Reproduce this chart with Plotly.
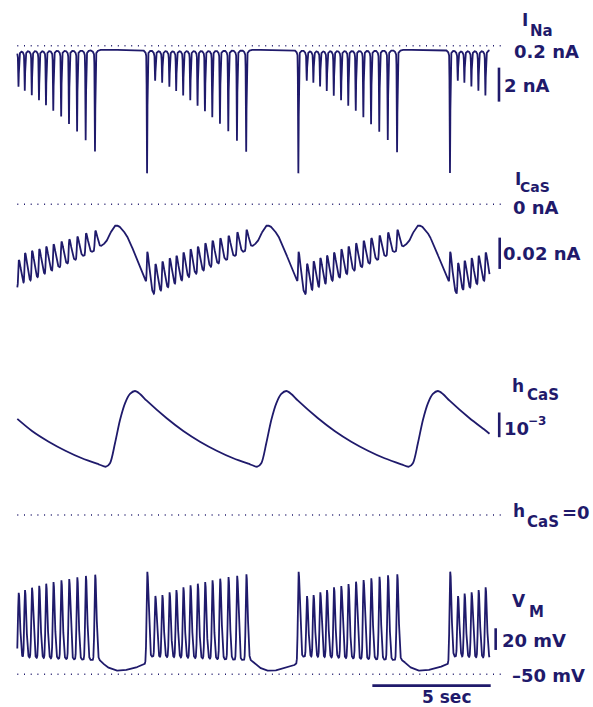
import numpy as np
import plotly.graph_objects as go

# ---------------- data ----------------
T_END = 19.95          # s, length of the recording shown
DT = 0.002             # s, sampling step of the traces

# first spike of each burst (s); the first burst starts before the window
burst_onsets = [-0.90, 5.492, 11.884, 18.289]

# spike times (s)
spike_times = [
    0.06, 0.325, 0.621, 0.925, 1.221, 1.529, 1.863, 2.193, 2.535, 2.898, 3.291,
    5.492, 5.834, 6.130, 6.434, 6.722, 7.017, 7.317, 7.626, 7.938, 8.247, 8.572, 8.923, 9.290, 9.679,
    11.884, 12.239, 12.518, 12.801, 13.084, 13.380, 13.688, 13.992, 14.309, 14.630, 14.956, 15.302, 15.661, 16.054,
    18.289, 18.619, 18.897, 19.193, 19.489, 19.785,
]

# peak inward sodium current of each spike (nA)
ina_peaks = [
    -2.21, -2.45, -2.72, -3.01, -3.31, -3.64, -3.98, -4.41, -4.86, -5.36, -6.04,
    -7.31, -1.86, -1.98, -2.21, -2.46, -2.74, -3.01, -3.33, -3.66, -4.01, -4.39, -4.84, -5.39, -6.05,
    -7.31, -1.86, -1.98, -2.21, -2.46, -2.74, -3.01, -3.33, -3.63, -4.01, -4.42, -4.86, -5.36, -6.07,
    -7.31, -1.86, -1.98, -2.21, -2.46, -2.74,
]
ina_rest = -0.04      # nA between bursts

# slow calcium current at each spike peak (nA)
icas_peaks = [
    -0.0356, -0.0313, -0.0298, -0.0286, -0.0271, -0.0256, -0.0239, -0.0224, -0.0207, -0.0185, -0.0169,
    -0.0303, -0.0382, -0.0367, -0.0345, -0.0330, -0.0309, -0.0288, -0.0271, -0.0249, -0.0233, -0.0217, -0.0201, -0.0179, -0.0164,
    -0.0303, -0.0380, -0.0366, -0.0345, -0.0329, -0.0309, -0.0288, -0.0270, -0.0250, -0.0233, -0.0216, -0.0200, -0.0180, -0.0164,
    -0.0303, -0.0375, -0.0362, -0.0345, -0.0330, -0.0309,
]
# slow part of I_CaS within one cycle (s after burst onset, nA)
icas_slow_t = [-0.03, 0.27, 4.13, 4.39, 4.67, 4.82, 5.03, 5.21, 5.52, 5.80, 6.08]
icas_slow_v = [-0.0505, -0.0580, -0.0300, -0.0275, -0.0239, -0.0185, -0.0132, -0.0139, -0.0196, -0.0292, -0.0399]

# membrane potential at each spike peak (mV)
vm_peaks = [
    25.3, 27.8, 30.0, 31.8, 33.7, 35.2, 36.8, 38.0, 39.6, 40.8, 42.0,
    44.7, 22.3, 23.2, 25.7, 27.8, 30.3, 32.2, 33.7, 35.2, 36.8, 38.3, 39.8, 41.0, 42.3,
    44.7, 22.3, 23.2, 25.7, 27.8, 30.3, 31.5, 33.4, 35.5, 37.1, 38.6, 40.1, 41.4, 42.3,
    44.7, 22.3, 24.6, 25.7, 27.8, 30.3,
]
# slow part of V_M within one cycle (s after burst onset, mV)
vm_slow_t = [-0.17, -0.04, 0.10, 4.00, 4.40, 4.67, 5.03, 5.37, 5.80]
vm_slow_v = [-41.4, -39.6, -33.7, -36.8, -37.0, -43.0, -46.7, -46.7, -44.5]

# inactivation h_CaS over one cycle (s after burst onset, units of 1e-3)
h_cycle_t = [-1.745, -1.576, -1.365, -1.153, -0.942, -0.731, -0.520, -0.308, -0.025,
             0.820, 1.521, 2.226, 2.932, 3.633, 4.339]
h_cycle_v = [1.955, 2.093, 2.903, 3.846, 4.522, 4.899, 5.020, 4.899, 4.628,
             3.915, 3.401, 2.968, 2.603, 2.296, 2.053]
h_start, h_end = 3.89, 3.29   # 1e-3, at the two ends of the window

# ---------------- geometry ----------------
W, H = 593, 707
X0_PX, PX_PER_S = 17.3, 23.67
NAVY = '#1f1a6b'
FONT = "DejaVu Sans"

t = np.arange(0.0, T_END + DT / 2, DT)


def smooth(y, sigma):
    n = int(4 * sigma / DT)
    k = np.exp(-0.5 * (np.arange(-n, n + 1) * DT / sigma) ** 2)
    k /= k.sum()
    return np.convolve(np.pad(y, n, mode='edge'), k, mode='valid')


def slow_wave(offsets, values, sigma=0.05):
    kt = np.concatenate([o + np.asarray(offsets) for o in burst_onsets])
    kv = np.tile(values, len(burst_onsets))
    order = np.argsort(kt)
    return smooth(np.interp(t, kt[order], kv[order]), sigma)


def add_spikes(bg, peaks, s_rise, s_fall, shift=0.0):
    out = bg.copy()
    for ts, pk in zip(spike_times, peaks):
        ts = ts + shift
        dt = t - ts
        s = np.where(dt < 0, s_rise, s_fall)
        amp = pk - np.interp(ts, t, bg)
        out += amp * np.exp(-0.5 * (dt / s) ** 2)
    return out


# sodium current: sharp inward spikes sitting in rounded funnels
ina_bg = np.full_like(t, ina_rest)
for ts in spike_times:
    ina_bg += -0.5 * np.exp(-np.abs(t - (ts - 0.01)) / 0.06)
ina = add_spikes(ina_bg, ina_peaks, 0.012, 0.014, shift=-0.01)

icas = add_spikes(slow_wave(icas_slow_t, icas_slow_v, 0.05), icas_peaks, 0.02, 0.09)
vm = add_spikes(slow_wave(vm_slow_t, vm_slow_v, 0.04), vm_peaks, 0.03, 0.055)

h_t, h_v = [0.0], [h_start]
for o in burst_onsets:
    for dt_, v in zip(h_cycle_t, h_cycle_v):
        tt = o + dt_
        if 0.0 < tt < T_END:
            h_t.append(tt)
            h_v.append(v)
h_t.append(T_END)
h_v.append(h_end)
order = np.argsort(h_t)
h_t = np.asarray(h_t)[order]
h_v = np.asarray(h_v)[order] * 1e-3


def yrange(ref_px, px_per_unit, ref_val=0.0):
    return [ref_val - (H - ref_px) / px_per_unit, ref_val + ref_px / px_per_unit]


fig = go.Figure()
line = dict(color=NAVY, width=1.8)
fig.add_trace(go.Scatter(x=t, y=ina, yaxis='y', mode='lines', line=line, hoverinfo='skip'))
fig.add_trace(go.Scatter(x=t, y=icas, yaxis='y2', mode='lines', line=line, hoverinfo='skip'))
fig.add_trace(go.Scatter(x=h_t, y=h_v, yaxis='y3', mode='lines',
                         line=dict(color=NAVY, width=1.8, shape='spline', smoothing=0.8),
                         hoverinfo='skip'))
fig.add_trace(go.Scatter(x=t, y=vm, yaxis='y4', mode='lines', line=line, hoverinfo='skip'))

# dotted reference levels
X_DOT_END = (505 - X0_PX) / PX_PER_S
dot = dict(color=NAVY, width=1.5, dash='1px,5.7px')
shapes = [
    dict(type='line', xref='x', yref='y', x0=0, x1=X_DOT_END, y0=0.2, y1=0.2, line=dot),
    dict(type='line', xref='x', yref='y2', x0=0, x1=X_DOT_END, y0=0, y1=0, line=dot),
    dict(type='line', xref='x', yref='y3', x0=0, x1=X_DOT_END, y0=0, y1=0, line=dot),
    dict(type='line', xref='x', yref='y4', x0=0, x1=X_DOT_END, y0=-50, y1=-50, line=dot),
]
# scale bars
bar = dict(color=NAVY, width=2.6)
shapes += [
    dict(type='line', xref='x', yref='y', x0=20.35, x1=20.35, y0=-1.09, y1=-3.09, line=bar),
    dict(type='line', xref='x', yref='y2', x0=20.38, x1=20.38, y0=-0.0213, y1=-0.0413, line=bar),
    dict(type='line', xref='x', yref='y3', x0=20.36, x1=20.36, y0=0.00415, y1=0.00315, line=bar),
    dict(type='line', xref='x', yref='y4', x0=20.21, x1=20.21, y0=-7.5, y1=-27.5, line=bar),
    dict(type='line', xref='x', yref='y4', x0=15.0, x1=20.0, y0=-60.5, y1=-60.5, line=bar),
]


def label(text, px, py, size=18, xanchor='left'):
    return dict(text='<b>%s</b>' % text, xref='paper', yref='paper',
                x=px / W, y=1 - py / H, xanchor=xanchor, yanchor='middle',
                showarrow=False, borderpad=0,
                font=dict(family=FONT, size=size, color=NAVY))


annotations = [
    label('I', 521, 20, 17), label('Na', 529, 31, 15),
    label('0.2 nA', 513, 51.5),
    label('2 nA', 503, 86),
    label('I', 514, 178.5, 17), label('CaS', 519, 187, 14),
    label('0 nA', 512, 207),
    label('0.02 nA', 502, 254),
    label('h', 511, 386, 17), label('CaS', 526, 395, 15),
    label('10', 503, 428), label('\u22123', 527, 421, 12),
    label('h', 512, 511.5, 17), label('CaS', 526, 522, 15), label('=0', 561, 512.5),
    label('V', 511, 601, 17), label('M', 528, 611.5, 15),
    label('20 mV', 501, 640.5),
    label('\u201350 mV', 511, 675),
    label('5 sec', 446, 696.5, 17, xanchor='center'),
]

ax = dict(visible=False, showgrid=False, zeroline=False, fixedrange=True)
fig.update_layout(
    width=W, height=H, autosize=False,
    margin=dict(l=0, r=0, t=0, b=0, pad=0),
    paper_bgcolor='white', plot_bgcolor='white',
    showlegend=False,
    xaxis=dict(ax, range=[-X0_PX / PX_PER_S, (W - X0_PX) / PX_PER_S]),
    yaxis=dict(ax, range=yrange(49.1, 17.0)),
    yaxis2=dict(ax, range=yrange(204.3, 1565.0), overlaying='y'),
    yaxis3=dict(ax, range=yrange(515.0, 24700.0), overlaying='y'),
    yaxis4=dict(ax, range=yrange(674.3, 1.083, -50.0), overlaying='y'),
    shapes=shapes,
    annotations=annotations,
)

fig.write_html("out.html")
